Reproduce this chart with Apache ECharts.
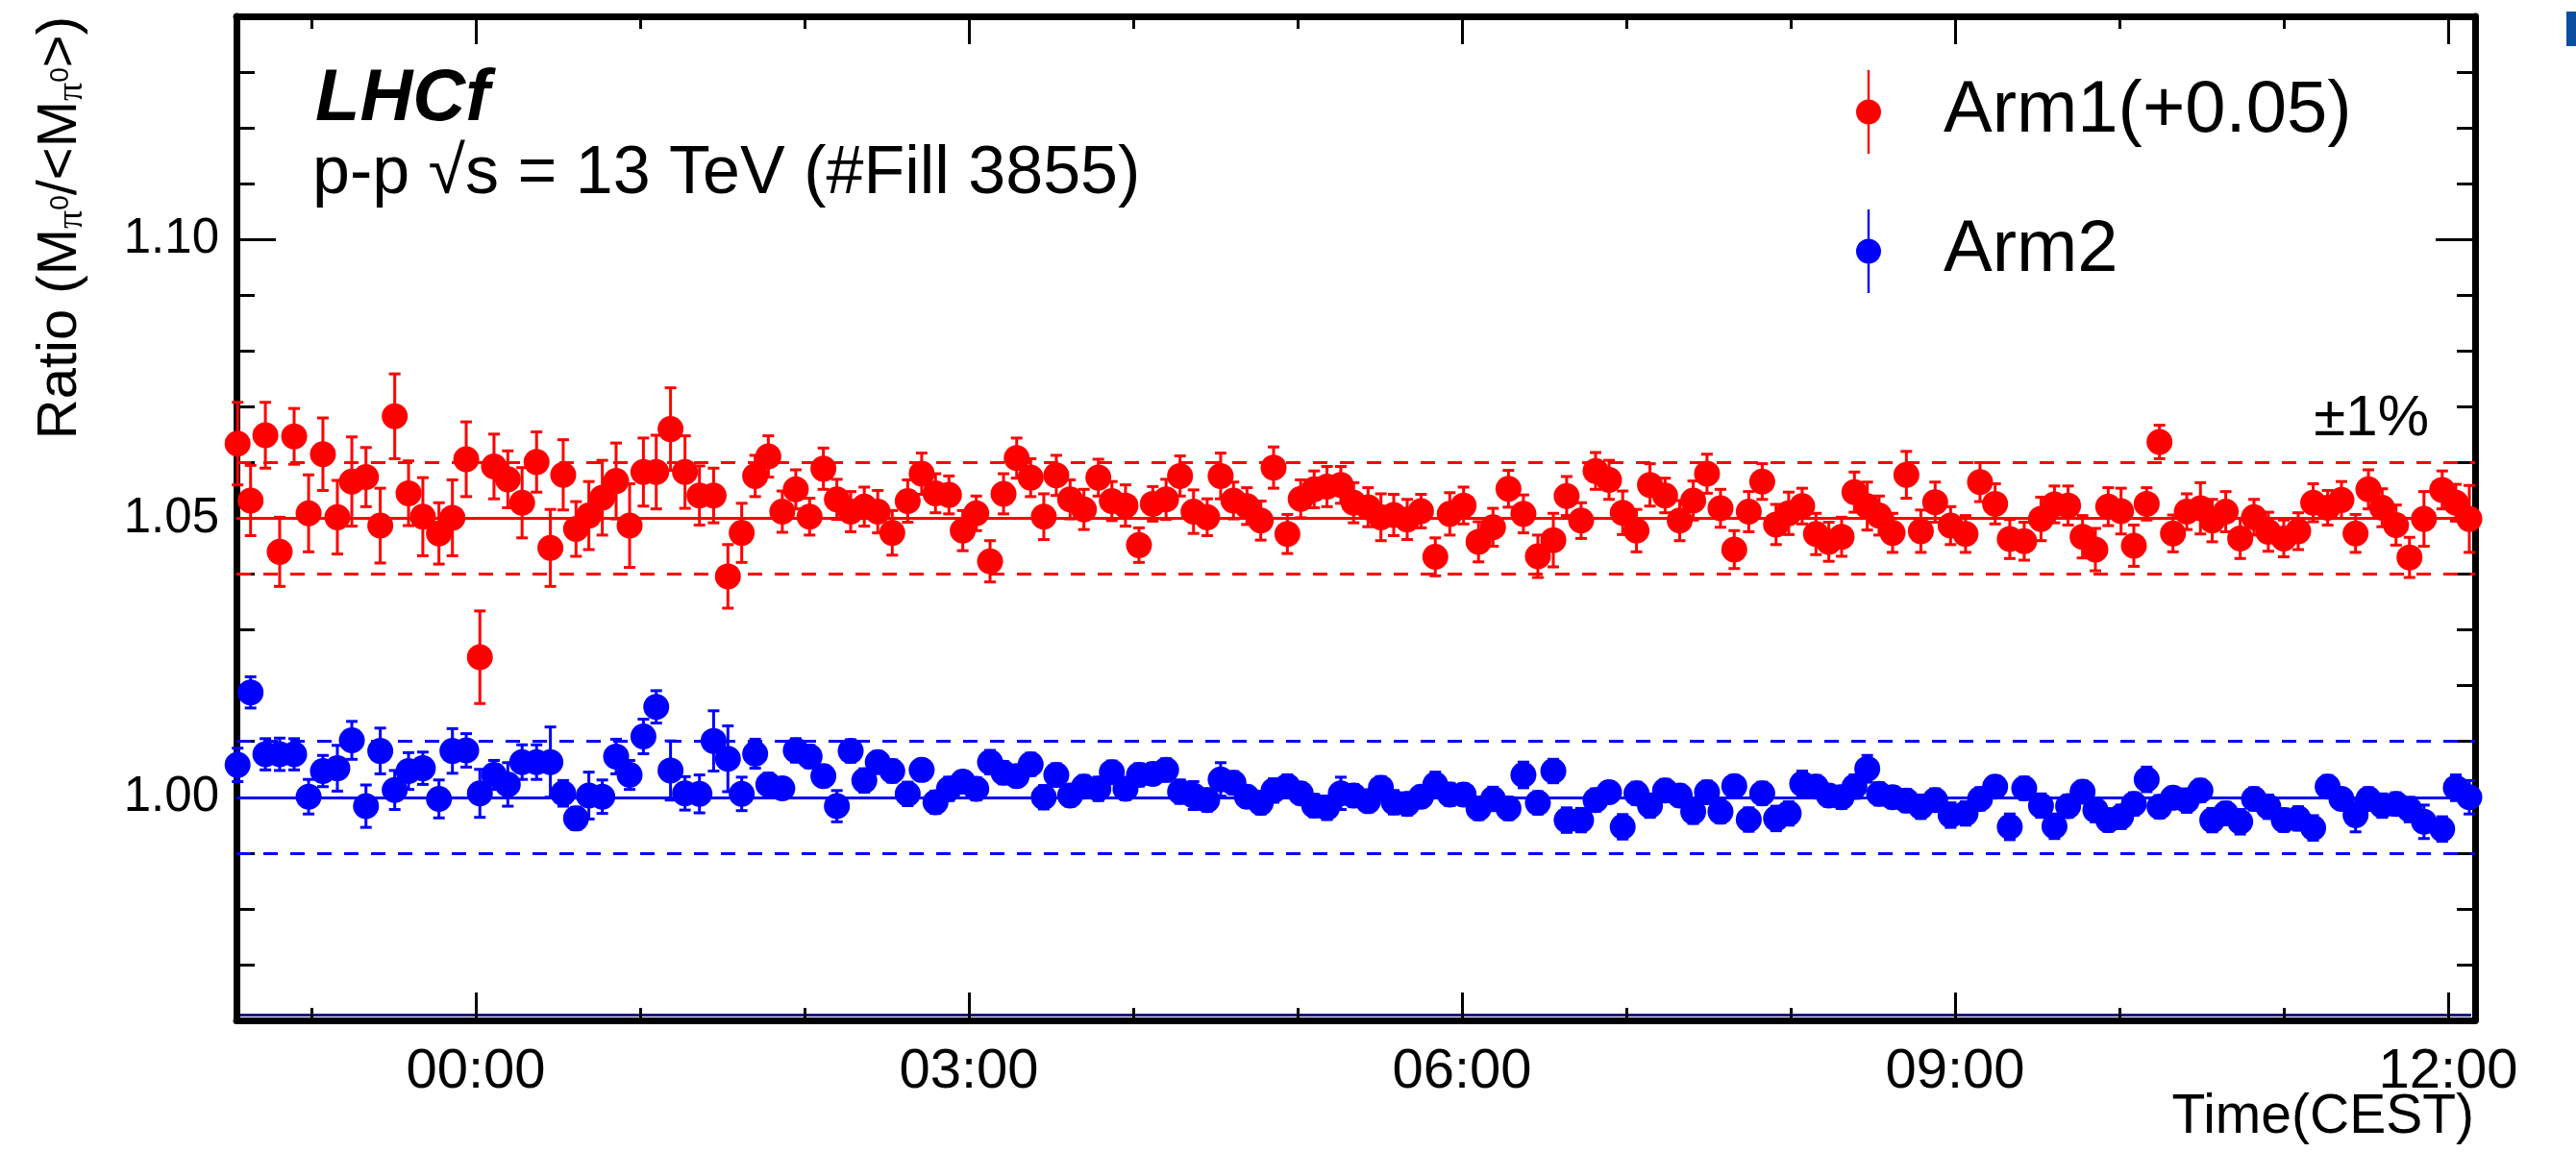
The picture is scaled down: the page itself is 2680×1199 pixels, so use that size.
<!DOCTYPE html>
<html>
<head>
<meta charset="utf-8">
<title>LHCf pi0 mass ratio vs time</title>
<script src="https://cdn.jsdelivr.net/npm/echarts@6/dist/echarts.min.js"></script>
<style>
  html, body { margin: 0; padding: 0; background: #fff; }
  #chart { width: 2680px; height: 1199px; }
</style>
</head>
<body>
<div id="chart"></div>
<script>
// bin time, hours from 00:00 CEST (negative = evening before)
var times = [
  -1.449, -1.370, -1.280, -1.193, -1.105, -1.017, -0.930, -0.842, -0.754, -0.668,
  -0.581, -0.493, -0.409, -0.322, -0.224, -0.142, -0.058, 0.025, 0.111, 0.195,
  0.282, 0.370, 0.454, 0.532, 0.610, 0.688, 0.770, 0.854, 0.936, 1.020,
  1.098, 1.185, 1.273,
  1.361, 1.447, 1.534, 1.618, 1.700, 1.780, 1.865, 1.947, 2.031, 2.115,
  2.197, 2.281, 2.364, 2.446, 2.534, 2.628, 2.713, 2.797, 2.879, 2.963,
  3.045, 3.129, 3.211, 3.291, 3.376, 3.456, 3.532, 3.616, 3.700, 3.788,
  3.870, 3.953,
  4.035, 4.119, 4.200, 4.285, 4.367, 4.450, 4.532, 4.610, 4.692, 4.776,
  4.854, 4.938, 5.019, 5.101, 5.179, 5.263, 5.341, 5.429, 5.507, 5.585,
  5.667, 5.751, 5.838, 5.926, 6.010, 6.101, 6.189, 6.283, 6.374, 6.462,
  6.556, 6.637,
  6.725, 6.813, 6.895, 6.978, 7.062, 7.144, 7.236, 7.325, 7.407, 7.491,
  7.573, 7.657, 7.745, 7.827, 7.911, 7.988, 8.070, 8.154, 8.232, 8.310,
  8.388, 8.466, 8.538, 8.620, 8.704, 8.792, 8.879, 8.973, 9.064, 9.152,
  9.244, 9.333,
  9.421, 9.523, 9.605, 9.688, 9.776, 9.854, 9.932, 10.010, 10.088, 10.166,
  10.244, 10.326, 10.410, 10.493, 10.565, 10.647, 10.735, 10.819, 10.906, 11.000,
  11.088, 11.179, 11.267, 11.351, 11.437, 11.515, 11.599, 11.683, 11.765, 11.853,
  11.964, 12.047, 12.129
];

// Arm1 ratio, already shifted by +0.05
var arm1 = [
  1.0634, 1.0532, 1.0649, 1.0440, 1.0647, 1.0509, 1.0615, 1.0502, 1.0566, 1.0574,
  1.0487, 1.0683, 1.0545, 1.0503, 1.0473, 1.0501, 1.0606, 1.0251, 1.0593, 1.0570,
  1.0528, 1.0601, 1.0447, 1.0578, 1.0481, 1.0505, 1.0537, 1.0567, 1.0487, 1.0583,
  1.0583, 1.0660, 1.0583,
  1.0541, 1.0541, 1.0396, 1.0474, 1.0576, 1.0611, 1.0512, 1.0552, 1.0503, 1.0589,
  1.0534, 1.0512, 1.0521, 1.0512, 1.0474, 1.0531, 1.0580, 1.0545, 1.0542, 1.0478,
  1.0509, 1.0423, 1.0544, 1.0608, 1.0573, 1.0503, 1.0577, 1.0534, 1.0516, 1.0573,
  1.0531, 1.0523,
  1.0452, 1.0526, 1.0534, 1.0576, 1.0512, 1.0502, 1.0576, 1.0532, 1.0522, 1.0496,
  1.0591, 1.0472, 1.0535, 1.0552, 1.0557, 1.0560, 1.0528, 1.0520, 1.0502, 1.0506,
  1.0498, 1.0513, 1.0431, 1.0508, 1.0523, 1.0458, 1.0484, 1.0553, 1.0508, 1.0432,
  1.0461, 1.0540,
  1.0496, 1.0585, 1.0569, 1.0510, 1.0478, 1.0560, 1.0541, 1.0496, 1.0532, 1.0580,
  1.0518, 1.0444, 1.0512, 1.0566, 1.0489, 1.0509, 1.0522, 1.0472, 1.0458, 1.0467,
  1.0547, 1.0522, 1.0505, 1.0474, 1.0578, 1.0477, 1.0529, 1.0487, 1.0472, 1.0565,
  1.0526, 1.0463,
  1.0459, 1.0499, 1.0525, 1.0523, 1.0467, 1.0444, 1.0521, 1.0513, 1.0451, 1.0526,
  1.0637, 1.0473, 1.0512, 1.0518, 1.0496, 1.0512, 1.0464, 1.0502, 1.0476, 1.0464,
  1.0477, 1.0528, 1.0519, 1.0533, 1.0473, 1.0552, 1.0519, 1.0488, 1.0430, 1.0499,
  1.0551, 1.0528, 1.0499
];

var arm1Err = [
  0.0074, 0.0063, 0.0059, 0.0062, 0.0050, 0.0069, 0.0065, 0.0066, 0.0080, 0.0053,
  0.0067, 0.0076, 0.0058, 0.0070, 0.0055, 0.0068, 0.0067, 0.0083, 0.0058, 0.0051,
  0.0063, 0.0054, 0.0069, 0.0063, 0.0049, 0.0061, 0.0067, 0.0068, 0.0075, 0.0061,
  0.0066, 0.0074, 0.0065,
  0.0053, 0.0049, 0.0057, 0.0053, 0.0037, 0.0037, 0.0037, 0.0035, 0.0033, 0.0037,
  0.0036, 0.0036, 0.0035, 0.0038, 0.0040, 0.0038, 0.0037, 0.0035, 0.0034, 0.0036,
  0.0031, 0.0037, 0.0036, 0.0036, 0.0034, 0.0041, 0.0036, 0.0035, 0.0036, 0.0033,
  0.0035, 0.0037,
  0.0031, 0.0031, 0.0036, 0.0036, 0.0039, 0.0033, 0.0041, 0.0033, 0.0033, 0.0035,
  0.0037, 0.0035, 0.0034, 0.0033, 0.0036, 0.0033, 0.0036, 0.0035, 0.0042, 0.0037,
  0.0036, 0.0030, 0.0034, 0.0038, 0.0033, 0.0036, 0.0034, 0.0033, 0.0034, 0.0038,
  0.0048, 0.0035,
  0.0032, 0.0033, 0.0035, 0.0039, 0.0038, 0.0038, 0.0031, 0.0036, 0.0035, 0.0035,
  0.0034, 0.0034, 0.0036, 0.0032, 0.0036, 0.0038, 0.0032, 0.0037, 0.0035, 0.0035,
  0.0036, 0.0043, 0.0035, 0.0035, 0.0042, 0.0038, 0.0036, 0.0034, 0.0033, 0.0035,
  0.0036, 0.0035,
  0.0034, 0.0039, 0.0033, 0.0035, 0.0038, 0.0038, 0.0034, 0.0041, 0.0037, 0.0029,
  0.0030, 0.0033, 0.0032, 0.0046, 0.0038, 0.0036, 0.0036, 0.0032, 0.0035, 0.0033,
  0.0033, 0.0034, 0.0031, 0.0033, 0.0034, 0.0035, 0.0034, 0.0036, 0.0036, 0.0049,
  0.0034, 0.0033, 0.0060
];

var arm2 = [
  1.0058, 1.0188, 1.0077, 1.0077, 1.0077, 1.0001, 1.0047, 1.0052, 1.0102, 0.9984,
  1.0083, 1.0013, 1.0047, 1.0052, 0.9997, 1.0083, 1.0084, 1.0007, 1.0040, 1.0023,
  1.0063, 1.0063, 1.0063, 1.0007, 0.9962, 1.0003, 1.0001, 1.0073, 1.0040, 1.0109,
  1.0162, 1.0048, 1.0007,
  1.0006, 1.0101, 1.0069, 1.0006, 1.0078, 1.0023, 1.0016, 1.0084, 1.0073, 1.0038,
  0.9984, 1.0083, 1.0030, 1.0063, 1.0047, 1.0006, 1.0049, 0.9991, 1.0015, 1.0028,
  1.0015, 1.0063, 1.0044, 1.0038, 1.0059, 1.0000, 1.0040, 1.0003, 1.0019, 1.0015,
  1.0045, 1.0015,
  1.0040, 1.0042, 1.0049, 1.0010, 1.0003, 0.9995, 1.0032, 1.0026, 1.0001, 0.9990,
  1.0012, 1.0020, 1.0007, 0.9985, 0.9981, 1.0007, 1.0003, 0.9993, 1.0017, 0.9991,
  0.9988, 1.0001, 1.0023, 1.0005, 1.0005, 0.9980, 0.9997, 0.9980, 1.0040, 0.9990,
  1.0047, 0.9959,
  0.9959, 0.9995, 1.0009, 0.9947, 1.0007, 0.9985, 1.0012, 1.0003, 0.9974, 1.0009,
  0.9974, 1.0020, 0.9960, 1.0007, 0.9962, 0.9971, 1.0024, 1.0019, 1.0003, 1.0000,
  1.0019, 1.0051, 1.0006, 1.0000, 0.9994, 0.9983, 0.9995, 0.9968, 0.9971, 0.9997,
  1.0019, 0.9947,
  1.0016, 0.9985, 0.9948, 0.9984, 1.0010, 0.9977, 0.9959, 0.9965, 0.9988, 1.0032,
  0.9983, 0.9999, 0.9994, 1.0012, 0.9959, 0.9971, 0.9956, 0.9997, 0.9983, 0.9959,
  0.9962, 0.9945, 1.0019, 0.9997, 0.9968, 0.9997, 0.9985, 0.9988, 0.9978, 0.9956,
  0.9943, 1.0017, 1.0000
];

var arm2Err = [
  0.0030, 0.0028, 0.0028, 0.0029, 0.0028, 0.0031, 0.0028, 0.0041, 0.0034, 0.0038,
  0.0041, 0.0035, 0.0033, 0.0029, 0.0034, 0.0040, 0.0030, 0.0043, 0.0026, 0.0039,
  0.0031, 0.0031, 0.0063, 0.0023, 0.0020, 0.0042, 0.0030, 0.0031, 0.0026, 0.0031,
  0.0029, 0.0053, 0.0030,
  0.0034, 0.0054, 0.0059, 0.0030, 0.0026, 0.0020, 0.0019, 0.0021, 0.0020, 0.0019,
  0.0028, 0.0020, 0.0021, 0.0019, 0.0020, 0.0021, 0.0019, 0.0020, 0.0021, 0.0019,
  0.0020, 0.0021, 0.0020, 0.0019, 0.0020, 0.0021, 0.0020, 0.0019, 0.0020, 0.0021,
  0.0020, 0.0019,
  0.0020, 0.0019, 0.0020, 0.0021, 0.0025, 0.0020, 0.0030, 0.0020, 0.0019, 0.0020,
  0.0021, 0.0020, 0.0019, 0.0020, 0.0021, 0.0029, 0.0020, 0.0019, 0.0020, 0.0021,
  0.0020, 0.0019, 0.0022, 0.0020, 0.0019, 0.0020, 0.0021, 0.0020, 0.0023, 0.0020,
  0.0021, 0.0022,
  0.0021, 0.0020, 0.0019, 0.0022, 0.0020, 0.0021, 0.0020, 0.0019, 0.0021, 0.0020,
  0.0020, 0.0019, 0.0021, 0.0020, 0.0022, 0.0021, 0.0023, 0.0020, 0.0019, 0.0020,
  0.0021, 0.0024, 0.0020, 0.0019, 0.0020, 0.0021, 0.0020, 0.0022, 0.0021, 0.0020,
  0.0019, 0.0023,
  0.0020, 0.0021, 0.0022, 0.0020, 0.0019, 0.0021, 0.0020, 0.0021, 0.0020, 0.0022,
  0.0020, 0.0019, 0.0021, 0.0020, 0.0021, 0.0020, 0.0022, 0.0020, 0.0021, 0.0020,
  0.0021, 0.0022, 0.0020, 0.0019, 0.0030, 0.0020, 0.0021, 0.0020, 0.0022, 0.0030,
  0.0022, 0.0023, 0.0030
];

// ticks and labels
var hourTicks = [-1, 0, 1, 2, 3, 4, 5, 6, 7, 8, 9, 10, 11, 12];
var hourLabels = [0, 3, 6, 9, 12];
var ratioTicks = [0.96, 0.97, 0.98, 0.99, 1.00, 1.01, 1.02, 1.03, 1.04, 1.05,
                  1.06, 1.07, 1.08, 1.09, 1.10, 1.11, 1.12, 1.13, 1.14];
var ratioLabels = [1.00, 1.05, 1.10];

// mean and +-1% bands
var arm1Mean = 1.05, arm1Band = [1.04, 1.06];
var arm2Mean = 1.00, arm2Band = [0.99, 1.01];

var FONT = 'Liberation Sans';
var RED = '#ff0000';
var BLUE = '#0000ff';
var xMin = -1.456, xMax = 12.164;
var yMin = 0.96, yMax = 1.14;

function hourText(v) {
  var h = ((Math.round(v) % 24) + 24) % 24;
  return (h < 10 ? '0' : '') + h + ':00';
}

function xAxisDef(position, ticks, len, withLine, withLabel) {
  return {
    type: 'value', gridIndex: 0, position: position, min: xMin, max: xMax,
    axisLine: { show: withLine, onZero: false, lineStyle: { color: '#000', width: 7 } },
    axisTick: { show: true, inside: true, length: len, customValues: ticks,
                lineStyle: { color: '#000', width: 3 } },
    axisLabel: { show: withLabel, customValues: hourLabels, margin: 25, fontSize: 58,
                 fontFamily: FONT, color: '#000', formatter: hourText },
    splitLine: { show: false }
  };
}

function yAxisDef(position, ticks, len, withLine, withLabel) {
  return {
    type: 'value', gridIndex: 0, position: position, min: yMin, max: yMax,
    axisLine: { show: withLine, onZero: false, lineStyle: { color: '#000', width: 7 } },
    axisTick: { show: true, inside: true, length: len, customValues: ticks,
                lineStyle: { color: '#000', width: 3 } },
    axisLabel: { show: withLabel, customValues: ratioLabels, margin: 18, fontSize: 51,
                 fontFamily: FONT, color: '#000',
                 formatter: function (v) { return v.toFixed(2); } },
    splitLine: { show: false }
  };
}

// vertical error bar with small caps
function errorBars(color) {
  return function (params, api) {
    var x = api.value(0), y = api.value(1), e = api.value(2);
    var lo = api.coord([x, y - e]);
    var hi = api.coord([x, y + e]);
    var w = 6;
    var st = { stroke: color, lineWidth: 3 };
    return {
      type: 'group',
      children: [
        { type: 'line', shape: { x1: lo[0], y1: lo[1], x2: hi[0], y2: hi[1] }, style: st },
        { type: 'line', shape: { x1: lo[0] - w, y1: lo[1], x2: lo[0] + w, y2: lo[1] }, style: st },
        { type: 'line', shape: { x1: hi[0] - w, y1: hi[1], x2: hi[0] + w, y2: hi[1] }, style: st }
      ]
    };
  };
}

function bandLines(color, mean, band) {
  return {
    silent: true, z: 1, symbol: ['none', 'none'], label: { show: false },
    data: [
      { yAxis: mean, lineStyle: { color: color, width: 3, type: 'solid' } },
      { yAxis: band[0], lineStyle: { color: color, width: 3, type: [15, 13] } },
      { yAxis: band[1], lineStyle: { color: color, width: 3, type: [15, 13] } }
    ]
  };
}

var arm1Data = times.map(function (t, i) { return [t, arm1[i], arm1Err[i]]; });
var arm2Data = times.map(function (t, i) { return [t, arm2[i], arm2Err[i]]; });

var legendIcon = 'path://M11.8,0h2.4v87h-2.4z M0,43.5a13,13 0 1,1 26,0a13,13 0 1,1 -26,0z';

var chart = echarts.init(document.getElementById('chart'));
chart.setOption({
  animation: false,
  backgroundColor: '#fff',
  grid: { left: 246, right: 105, top: 17, bottom: 137 },
  xAxis: [
    xAxisDef('bottom', hourTicks, 13, true, true),
    xAxisDef('bottom', hourLabels, 29, false, false),
    xAxisDef('top', hourTicks, 13, true, false),
    xAxisDef('top', hourLabels, 29, false, false)
  ],
  yAxis: [
    yAxisDef('left', ratioTicks, 19, true, true),
    yAxisDef('left', ratioLabels, 41, false, false),
    yAxisDef('right', ratioTicks, 19, true, false),
    yAxisDef('right', ratioLabels, 41, false, false)
  ],
  legend: {
    orient: 'vertical', left: 1926, top: 68,
    itemWidth: 26, itemHeight: 87, itemGap: 58,
    icon: legendIcon, selectedMode: false,
    textStyle: { fontSize: 76, fontFamily: FONT, color: '#000', padding: [0, 0, 0, 60] },
    data: ['Arm1(+0.05)', 'Arm2']
  },
  series: [
    {
      type: 'custom', name: 'Arm1 err', data: arm1Data, encode: { x: 0, y: 1 },
      renderItem: errorBars(RED), z: 2, silent: true,
      markLine: bandLines(RED, arm1Mean, arm1Band)
    },
    {
      type: 'custom', name: 'Arm2 err', data: arm2Data, encode: { x: 0, y: 1 },
      renderItem: errorBars(BLUE), z: 2, silent: true,
      markLine: bandLines(BLUE, arm2Mean, arm2Band)
    },
    {
      type: 'scatter', name: 'Arm1(+0.05)', data: arm1Data, symbol: 'circle',
      symbolSize: 27, itemStyle: { color: RED, opacity: 1 }, z: 3
    },
    {
      type: 'scatter', name: 'Arm2', data: arm2Data, symbol: 'circle',
      symbolSize: 27, itemStyle: { color: BLUE, opacity: 1 }, z: 3
    }
  ],
  graphic: [
    {
      type: 'text', x: 63, y: 17, rotation: Math.PI / 2,
      style: {
        text: '{t|Ratio (M}{s|π}{p|0}{t|/<M}{s|π}{p|0}{t|>)}',
        align: 'right', verticalAlign: 'middle',
        rich: {
          t: { fontSize: 58, fontFamily: FONT, fill: '#000', lineHeight: 62, verticalAlign: 'middle' },
          s: { fontSize: 38, fontFamily: 'Liberation Serif', fill: '#000', lineHeight: 62, verticalAlign: 'bottom' },
          p: { fontSize: 28, fontFamily: FONT, fill: '#000', lineHeight: 62, verticalAlign: 'middle' }
        }
      }
    },
    {
      type: 'text', x: 328, y: 104,
      style: { text: 'LHCf', fontSize: 76, fontWeight: 'bold', fontStyle: 'italic',
               fontFamily: FONT, fill: '#000', align: 'left', verticalAlign: 'middle' }
    },
    {
      type: 'text', x: 325, y: 182,
      style: { text: 'p-p √s = 13 TeV (#Fill 3855)', fontSize: 70, fontFamily: FONT,
               fill: '#000', align: 'left', verticalAlign: 'middle' }
    },
    {
      type: 'text', x: 2527, y: 436,
      style: { text: '±1%', fontSize: 60, fontFamily: FONT, fill: '#000',
               align: 'right', verticalAlign: 'middle' }
    },
    {
      type: 'text', x: 2574, y: 1163,
      style: { text: 'Time(CEST)', fontSize: 57, fontFamily: FONT, fill: '#000',
               align: 'right', verticalAlign: 'middle' }
    },
    // thin navy strip on the bottom frame, and the cut-off blue mark at the top right
    { type: 'rect', shape: { x: 250, y: 1055, width: 2321, height: 3 }, style: { fill: '#1a1a8c' } },
    { type: 'rect', shape: { x: 2670, y: 12, width: 10, height: 36 }, style: { fill: '#0b4ea2' } }
  ]
});
</script>
</body>
</html>
